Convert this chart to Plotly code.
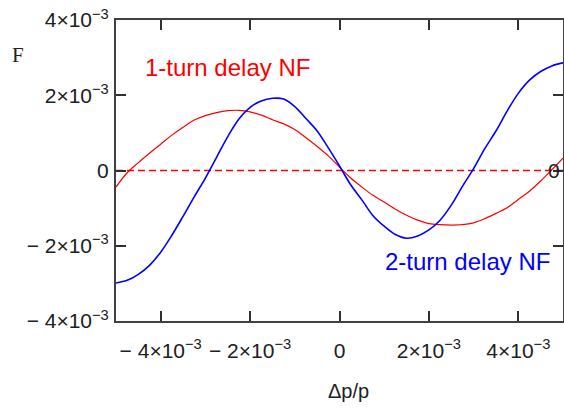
import plotly.graph_objects as go

# x in units of 1e-3 (delta p / p)
x_vals = [-5.00, -4.75, -4.50, -4.25, -4.00, -3.75, -3.50, -3.25, -3.00, -2.75,
          -2.50, -2.25, -2.00, -1.75, -1.50, -1.25, -1.00, -0.75, -0.50, -0.25,
          0.00, 0.25, 0.50, 0.75, 1.00, 1.25, 1.50, 1.75, 2.00, 2.25,
          2.50, 2.75, 3.00, 3.25, 3.50, 3.75, 4.00, 4.25, 4.50, 4.75, 5.00]

# F values in units of 1e-3
one_turn = [-0.44, -0.06, 0.21, 0.46, 0.70, 0.94, 1.15, 1.34, 1.46, 1.54,
            1.59, 1.60, 1.56, 1.47, 1.35, 1.24, 1.09, 0.87, 0.64, 0.39,
            0.09, -0.20, -0.44, -0.66, -0.84, -1.03, -1.19, -1.32, -1.41, -1.44,
            -1.45, -1.44, -1.39, -1.28, -1.14, -0.99, -0.77, -0.55, -0.28, 0.02, 0.33]

two_turn = [-2.99, -2.92, -2.76, -2.52, -2.17, -1.72, -1.22, -0.70, -0.20, 0.35,
            0.90, 1.37, 1.68, 1.85, 1.92, 1.90, 1.70, 1.38, 1.05, 0.60,
            0.12, -0.38, -0.78, -1.20, -1.48, -1.70, -1.80, -1.74, -1.58, -1.32,
            -0.92, -0.42, 0.05, 0.58, 1.05, 1.58, 2.05, 2.40, 2.63, 2.78, 2.86]

scale = 1e-3
x_tickvals = [-4e-3, -2e-3, 0, 2e-3, 4e-3]
x_ticktext = ["\u2212 4\u00d710<sup>\u22123</sup>", "\u2212 2\u00d710<sup>\u22123</sup>", "0",
              "2\u00d710<sup>\u22123</sup>", "4\u00d710<sup>\u22123</sup>"]
y_tickvals = [-4e-3, -2e-3, 0, 2e-3, 4e-3]
y_ticktext = ["\u2212 4\u00d710<sup>\u22123</sup>", "\u2212 2\u00d710<sup>\u22123</sup>", "0",
              "2\u00d710<sup>\u22123</sup>", "4\u00d710<sup>\u22123</sup>"]

xs = [v * scale for v in x_vals]
y1 = [v * scale for v in one_turn]
y2 = [v * scale for v in two_turn]

fig = go.Figure()
fig.add_trace(go.Scatter(x=xs, y=y1, mode="lines", line=dict(color="#ff0000", width=1.2, shape="spline"),
                         name="1-turn delay NF", showlegend=False))
fig.add_trace(go.Scatter(x=xs, y=y2, mode="lines", line=dict(color="#0000ff", width=1.6, shape="spline"),
                         name="2-turn delay NF", showlegend=False))

# zero marker line
fig.add_shape(type="line", xref="paper", x0=0, x1=1, yref="y", y0=0, y1=0,
              line=dict(color="#ff0000", width=1.5, dash="7px,4px"), layer="below")

tick_font = dict(family="Liberation Sans, Arial, sans-serif", size=21, color="#202020")
axis_common = dict(showline=True, linecolor="#404040", linewidth=2, mirror="ticks",
                   ticks="inside", ticklen=10, tickwidth=1.5, tickcolor="#303030",
                   showgrid=False, zeroline=False, tickfont=tick_font, automargin=False)

fig.update_xaxes(range=[-5e-3, 5e-3], tickvals=x_tickvals, ticktext=x_ticktext,
                 ticklabelstandoff=10, **axis_common)
fig.update_yaxes(range=[-4e-3, 4e-3], tickvals=y_tickvals, ticktext=y_ticktext,
                 ticklabelstandoff=1, **axis_common)

fig.add_annotation(text="1-turn delay NF", x=-4.40e-3, y=2.73e-3, xref="x", yref="y",
                   xanchor="left", yanchor="middle", showarrow=False,
                   font=dict(family="Liberation Sans, Arial, sans-serif", size=24, color="#ff0000"))
fig.add_annotation(text="2-turn delay NF", x=0.97e-3, y=-2.43e-3, xref="x", yref="y",
                   xanchor="left", yanchor="middle", showarrow=False,
                   font=dict(family="Liberation Sans, Arial, sans-serif", size=24, color="#0000ff"))
fig.add_annotation(text="0", x=4.80e-3, y=0, xref="x", yref="y",
                   xanchor="center", yanchor="middle", showarrow=False,
                   font=tick_font)
fig.add_annotation(text="F", x=-0.219, y=0.884, xref="paper", yref="paper",
                   xanchor="center", yanchor="middle", showarrow=False,
                   font=dict(family="Liberation Serif, Times New Roman, serif", size=21, color="#202020"))
fig.add_annotation(text="\u0394p/p", x=0.521, y=-0.233, xref="paper", yref="paper",
                   xanchor="center", yanchor="middle", showarrow=False,
                   font=dict(family="Liberation Sans, Arial, sans-serif", size=20, color="#202020"))

fig.update_layout(width=564, height=415, margin=dict(l=116, r=1, t=20, b=94),
                  paper_bgcolor="white", plot_bgcolor="white")

fig.write_html("out.html", config={"displayModeBar": False},
               post_script="document.body.style.margin='0';document.body.style.overflow='hidden';")
